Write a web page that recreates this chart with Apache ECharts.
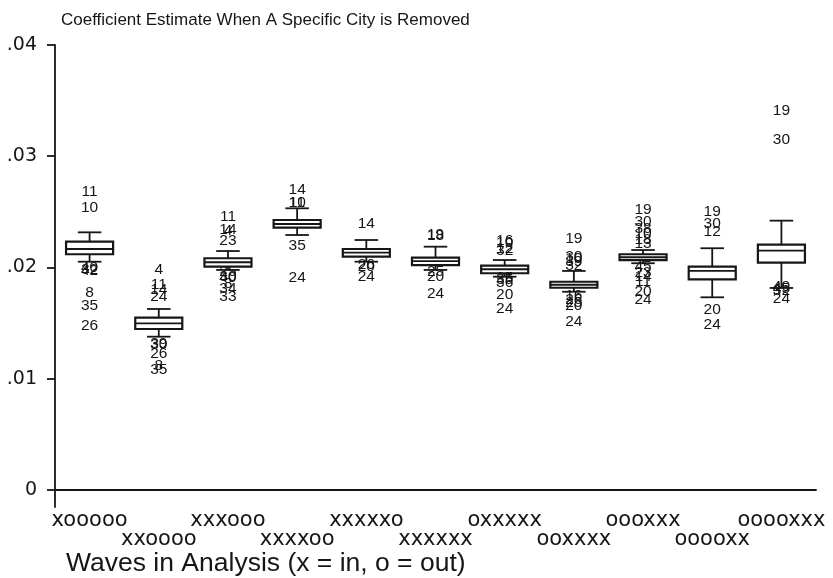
<!DOCTYPE html>
<html>
<head>
<meta charset="utf-8">
<script src="https://cdn.jsdelivr.net/npm/echarts@6/dist/echarts.min.js"></script>
<style>
  html, body { margin: 0; padding: 0; background: #fff; }
  #chart { width: 833px; height: 578px; }
</style>
</head>
<body>
<div id="chart"></div>
<script>
const categories = ['xooooo', 'xxoooo', 'xxxooo', 'xxxxoo', 'xxxxxo', 'xxxxxx',
  'oxxxxx', 'ooxxxx', 'oooxxx', 'ooooxx', 'ooooxxx']

// [lower whisker, Q1, median, Q3, upper whisker]
const boxStats = [
  [0.02052, 0.02119, 0.02166, 0.02232, 0.02316],
  [0.01378, 0.01447, 0.01498, 0.01549, 0.01627],
  [0.01978, 0.02007, 0.02047, 0.02083, 0.02148],
  [0.02292, 0.02358, 0.02391, 0.02427, 0.02532],
  [0.02052, 0.02097, 0.02133, 0.02166, 0.02247],
  [0.01978, 0.02022, 0.02058, 0.02088, 0.02187],
  [0.01917, 0.01948, 0.01984, 0.02016, 0.02067],
  [0.01782, 0.01818, 0.01845, 0.01872, 0.01969],
  [0.02038, 0.02067, 0.02092, 0.02119, 0.02157],
  [0.01732, 0.01894, 0.01969, 0.02007, 0.02173],
  [0.01816, 0.02043, 0.02151, 0.02205, 0.02421]
]

// [category index, value, city label]
const outliers = [
  [0, 0.02681, '11'], [0, 0.02538, '10'], [0, 0.01996, '40'], [0, 0.01978, '32'],
  [0, 0.01969, '42'], [0, 0.01773, '8'], [0, 0.01654, '35'], [0, 0.01474, '26'],
  [1, 0.01984, '4'], [1, 0.01849, '11'], [1, 0.01798, '14'], [1, 0.01738, '24'],
  [1, 0.01317, '39'], [1, 0.01303, '30'], [1, 0.01222, '26'], [1, 0.01115, '8'],
  [1, 0.01079, '35'],
  [2, 0.02457, '11'], [2, 0.02337, '14'], [2, 0.02333, '4'], [2, 0.02238, '23'],
  [2, 0.01962, '25'], [2, 0.01915, '30'], [2, 0.01906, '40'], [2, 0.01856, '8'],
  [2, 0.01811, '34'], [2, 0.01739, '33'],
  [3, 0.02697, '14'], [3, 0.02586, '10'], [3, 0.0258, '11'], [3, 0.02196, '35'],
  [3, 0.01908, '24'],
  [4, 0.02397, '14'], [4, 0.02022, '26'], [4, 0.02004, '20'], [4, 0.01915, '24'],
  [5, 0.02292, '19'], [5, 0.02283, '18'], [5, 0.0196, '25'], [5, 0.01919, '20'],
  [5, 0.01768, '24'],
  [6, 0.02238, '16'], [6, 0.0222, '10'], [6, 0.02166, '12'], [6, 0.02148, '32'],
  [6, 0.01906, '25'], [6, 0.01888, '35'], [6, 0.01861, '36'], [6, 0.01753, '20'],
  [6, 0.01633, '24'],
  [7, 0.02262, '19'], [7, 0.02094, '30'], [7, 0.02076, '10'], [7, 0.02049, '39'],
  [7, 0.02013, '32'], [7, 0.01744, '16'], [7, 0.01708, '26'], [7, 0.01681, '25'],
  [7, 0.01654, '20'], [7, 0.01513, '24'],
  [8, 0.02517, '19'], [8, 0.02412, '30'], [8, 0.02353, '38'], [8, 0.02308, '10'],
  [8, 0.02247, '18'], [8, 0.02218, '13'], [8, 0.02007, '45'], [8, 0.01957, '23'],
  [8, 0.01917, '14'], [8, 0.01873, '11'], [8, 0.01782, '20'], [8, 0.01708, '24'],
  [9, 0.02502, '19'], [9, 0.02397, '30'], [9, 0.02322, '12'], [9, 0.01618, '20'],
  [9, 0.01489, '24'],
  [10, 0.03409, '19'], [10, 0.03146, '30'], [10, 0.01825, '40'], [10, 0.01807, '45'],
  [10, 0.01789, '32'], [10, 0.01721, '24']
]

const yTicks = [0, 0.01, 0.02, 0.03, 0.04]

const ink = '#161616'
const chart = echarts.init(document.getElementById('chart'))

function renderBox(params, api) {
  const i = api.value(0)
  const low = api.coord([i, api.value(1)])
  const q1 = api.coord([i, api.value(2)])
  const med = api.coord([i, api.value(3)])
  const q3 = api.coord([i, api.value(4)])
  const high = api.coord([i, api.value(5)])
  const w = api.size([1, 0])[0] * 0.68
  const cx = low[0]
  const line = { stroke: ink, lineWidth: 1.8 }
  return {
    type: 'group',
    children: [
      { type: 'line', shape: { x1: cx, y1: high[1], x2: cx, y2: q3[1] }, style: line },
      { type: 'line', shape: { x1: cx, y1: q1[1], x2: cx, y2: low[1] }, style: line },
      { type: 'line', shape: { x1: cx - w / 4, y1: high[1], x2: cx + w / 4, y2: high[1] }, style: line },
      { type: 'line', shape: { x1: cx - w / 4, y1: low[1], x2: cx + w / 4, y2: low[1] }, style: line },
      { type: 'rect', shape: { x: cx - w / 2, y: q3[1], width: w, height: q1[1] - q3[1] },
        style: { stroke: ink, lineWidth: 2.2, fill: '#fff' } },
      { type: 'line', shape: { x1: cx - w / 2, y1: med[1], x2: cx + w / 2, y2: med[1] }, style: line }
    ]
  }
}

function renderLabel(params, api) {
  const p = api.coord([api.value(0), api.value(1)])
  return {
    type: 'text',
    x: p[0],
    y: p[1],
    style: {
      text: outliers[params.dataIndex][2],
      fill: ink,
      font: '15.5px "Liberation Sans", Arial, sans-serif',
      align: 'center',
      verticalAlign: 'middle'
    }
  }
}

chart.setOption({
  animation: false,
  title: [
    {
      text: 'Coefficient Estimate When A Specific City is Removed',
      left: 56, top: 7,
      textStyle: { fontFamily: 'Liberation Sans', fontSize: 17, fontWeight: 'normal', color: ink }
    },
    {
      text: 'Waves in Analysis (x = in, o = out)',
      left: 61, top: 545,
      textStyle: { fontFamily: 'Liberation Sans', fontSize: 26.5, fontWeight: 'normal', color: ink }
    }
  ],
  grid: { left: 55, right: 17, top: 45, bottom: 71 },
  xAxis: {
    type: 'category',
    data: categories,
    axisLine: { lineStyle: { color: ink, width: 1.8 } },
    axisTick: { show: false },
    axisLabel: {
      interval: 0,
      margin: 4,
      color: ink,
      fontFamily: 'DejaVu Sans',
      fontSize: 21,
      lineHeight: 19,
      formatter: (v, i) => (i % 2 ? '\n' + v : v)
    },
    splitLine: { show: false }
  },
  yAxis: {
    type: 'value',
    min: -0.00153,
    max: 0.04,
    axisLine: { show: true, lineStyle: { color: ink, width: 1.8 } },
    axisTick: { show: true, length: 8, customValues: yTicks, lineStyle: { color: ink, width: 1.8 } },
    axisLabel: {
      customValues: yTicks,
      margin: 18,
      color: ink,
      fontFamily: 'DejaVu Sans',
      fontSize: 19,
      formatter: v => (v === 0 ? '0' : String(+v.toFixed(2)).replace(/^0/, ''))
    },
    splitLine: { show: false }
  },
  series: [
    {
      type: 'custom',
      renderItem: renderBox,
      encode: { x: 0, y: [1, 2, 3, 4, 5] },
      data: boxStats.map((b, i) => [i].concat(b)),
      markLine: {
        silent: true,
        symbol: 'none',
        label: { show: false },
        lineStyle: { color: ink, width: 1.8, type: 'solid' },
        data: [{ yAxis: 0 }]
      },
      z: 2
    },
    {
      type: 'custom',
      renderItem: renderLabel,
      encode: { x: 0, y: 1 },
      data: outliers.map(o => [o[0], o[1]]),
      z: 3
    }
  ]
})
</script>
</body>
</html>
